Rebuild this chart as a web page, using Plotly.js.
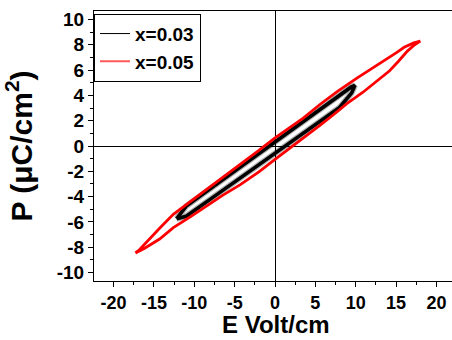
<!DOCTYPE html>
<html>
<head>
<meta charset="utf-8">
<script src="https://cdn.plot.ly/plotly-3.0.1.min.js"></script>
<style>html,body{margin:0;padding:0;background:#fff;}#chart{width:452px;height:340px;}</style>
</head>
<body>
<div id="chart"></div>
<script>
// x=0.05 loop (red): lower branch (E increasing) then upper branch (E decreasing)
var redE = [-17.3,-16.2,-14.3,-12.6,-10.5,-8.5,-6.5,-4.3,-2,0,2,3.5,5.6,7.2,8.9,10.9,12.5,14.2,15.3,16.4,17.3,18,
            17.2,16,15.1,13.5,11.8,10.1,7.7,5.6,3.5,1.5,0,-2,-4.3,-6.5,-8.5,-10.5,-12.6,-14.3,-15.8,-16.8,-17.3];
var redP = [-8.45,-8.1,-7.35,-6.45,-5.6,-4.75,-3.9,-3.05,-2.05,-1.05,-0.1,0.6,1.65,2.45,3.35,4.25,5.05,5.95,6.7,7.5,8.0,8.3,
            8.15,7.8,7.4,6.75,6.05,5.35,4.3,3.3,2.2,1.3,0.65,-0.35,-1.45,-2.5,-3.45,-4.4,-5.4,-6.5,-7.55,-8.2,-8.45];
// x=0.03 loop (black)
var blackE = [-12.2,-11,-8,-5,-2,0,2,5,8,9.5,9.9,
              9.4,8,5,2,0,-2,-5,-8,-11,-12.2];
var blackP = [-5.75,-5.55,-4.2,-2.85,-1.5,-0.55,0.35,1.7,3.05,4.2,4.8,
              4.65,4.0,2.6,1.25,0.3,-0.6,-2.0,-3.4,-4.75,-5.75];
var seriesNames = ['x=0.03','x=0.05'];
var xTicks = [-20,-15,-10,-5,0,5,10,15,20];
var yTicks = [-10,-8,-6,-4,-2,0,2,4,6,8,10];
var xTitle = 'E Volt/cm';
var yTitle = 'P (\u03bcC/cm<sup>2</sup>)';

var FONT = 'Liberation Sans, Arial, sans-serif';
var traces = [
  {x: blackE, y: blackP, mode: 'lines', showlegend: false, hoverinfo: 'skip',
   line: {color: 'rgba(0,0,0,0.3)', width: 6}, type: 'scatter'},
  {x: blackE, y: blackP, name: seriesNames[0], mode: 'lines', showlegend: false,
   line: {color: '#000000', width: 3.6}, type: 'scatter'},
  {x: redE, y: redP, name: seriesNames[1], mode: 'lines', showlegend: false,
   line: {color: '#ff0000', width: 2.8}, type: 'scatter'},
  // legend entries (thin sample lines as in the reference)
  {x: [null], y: [null], name: seriesNames[0], mode: 'lines',
   line: {color: '#000000', width: 1}, type: 'scatter'},
  {x: [null], y: [null], name: seriesNames[1], mode: 'lines',
   line: {color: '#ff5a5a', width: 2}, type: 'scatter'}
];
var layout = {
  width: 452, height: 340,
  margin: {l: 94, r: 0, t: 11, b: 59},
  paper_bgcolor: '#ffffff', plot_bgcolor: '#ffffff',
  font: {family: FONT, color: '#000', weight: 'bold'},
  showlegend: true,
  legend: {x: 0, y: 0.99, xanchor: 'left', yanchor: 'top',
           bgcolor: '#ffffff', bordercolor: '#000', borderwidth: 1,
           font: {family: FONT, size: 19, weight: 'bold', color: '#000'},
           tracegroupgap: 0, itemwidth: 30},
  xaxis: {range: [-22.43, 21.93], tickvals: xTicks, ticktext: xTicks.map(String),
          ticks: 'outside', ticklen: 5, tickwidth: 1, tickcolor: '#000',
          minor: {dtick: 2.5, tick0: 0, ticks: 'outside', ticklen: 3, tickcolor: '#000', showgrid: false},
          showline: true, linecolor: '#000', linewidth: 1, mirror: true,
          showgrid: false, zeroline: true, zerolinecolor: '#000', zerolinewidth: 1,
          tickfont: {family: FONT, size: 18, weight: 'bold'}},
  yaxis: {range: [-10.67, 10.67], tickvals: yTicks, ticktext: yTicks.map(String),
          ticks: 'outside', ticklen: 5, tickwidth: 1, tickcolor: '#000',
          minor: {dtick: 1, tick0: 0, ticks: 'outside', ticklen: 3, tickcolor: '#000', showgrid: false},
          showline: true, linecolor: '#000', linewidth: 1, mirror: false,
          showgrid: false, zeroline: true, zerolinecolor: '#000', zerolinewidth: 1,
          tickfont: {family: FONT, size: 19, weight: 'bold'},
          title: {text: yTitle, font: {family: FONT, size: 30, weight: 'bold'}}},
  annotations: [
    {text: xTitle, xref: 'paper', yref: 'paper', x: 0.508, y: -0.215,
     xanchor: 'center', yanchor: 'bottom', showarrow: false, borderpad: 0,
     font: {family: FONT, size: 24, weight: 'bold', color: '#000'}}
  ]
};
Plotly.newPlot('chart', traces, layout, {displayModeBar: false, staticPlot: true});
</script>
</body>
</html>
